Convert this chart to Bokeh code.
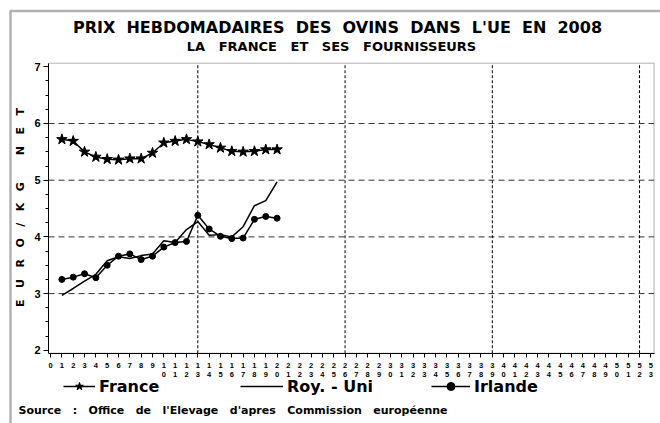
from math import pi
from bokeh.plotting import figure
from bokeh.models import (FixedTicker, Legend, LegendItem, Range1d, Label, BoxAnnotation)
from bokeh.embed import file_html
from bokeh.resources import INLINE

# ---- data ----
weeks = list(range(1, 21))
france = [5.72, 5.69, 5.50, 5.41, 5.37, 5.36, 5.38, 5.38, 5.48, 5.66,
          5.69, 5.72, 5.68, 5.63, 5.57, 5.51, 5.50, 5.51, 5.54, 5.54]
roy_uni = [2.97, 3.09, 3.22, 3.34, 3.58, 3.65, 3.62, 3.67, 3.70, 3.93,
           3.90, 4.13, 4.27, 4.03, 4.04, 4.00, 4.18, 4.55, 4.64, 4.97]
irlande = [3.25, 3.29, 3.35, 3.28, 3.50, 3.66, 3.70, 3.60, 3.66, 3.82,
           3.90, 3.92, 4.38, 4.14, 4.01, 3.97, 3.98, 4.31, 4.36, 4.33]

x_ticks = list(range(0, 54))
x_tick_labels = {t: (str(t) if t < 10 else f"{t // 10}\n{t % 10}") for t in x_ticks}
x_grid = [13, 26, 39, 52]
y_ticks = [2, 3, 4, 5, 6, 7]
y_minor = [2 + 0.25 * i for i in range(21)]
y_grid = [3, 4, 5, 6]

NB = "\u00a0"
title1 = f" {NB}".join(["PRIX", "HEBDOMADAIRES", "DES", "OVINS", "DANS", "L'UE", "EN", "2008"])
title2 = f" {NB} ".join(["LA", "FRANCE", "ET", "SES", "FOURNISSEURS"])
y_label = f" {NB} ".join(list("EURO/KG")) + f" {NB} {NB} {NB} " + f" {NB} ".join(list("NET"))
source = f" {NB} ".join(["Source", ":", "Office", "de", "l'Elevage", "d'apres",
                         "Commission", "européenne"])
names = ["France", "Roy. - Uni", "Irlande"]

FONT = "DejaVu Sans"
TFONT = "Liberation Sans"

# plot box extents (in data units) and overall view
X_LO, X_HI = -0.18, 53.28
Y_LO, Y_HI = 1.948, 7.063
W, H = 660, 423

p = figure(width=W, height=H,
           x_range=Range1d(-4.42, 53.85), y_range=Range1d(0.709, 8.169),
           output_backend="svg", toolbar_location=None,
           min_border_left=0, min_border_right=0,
           min_border_top=0, min_border_bottom=0)
p.background_fill_color = "white"
p.border_fill_color = "white"
p.outline_line_color = None
p.grid.visible = False

# axes drawn at the plot box edges
p.xaxis.fixed_location = Y_LO
p.xaxis.bounds = (X_LO, X_HI)
p.xaxis.ticker = FixedTicker(ticks=x_ticks)
p.xaxis.major_label_overrides = x_tick_labels
p.xaxis.major_label_text_font = TFONT
p.xaxis.major_label_text_font_style = "bold"
p.xaxis.major_label_text_font_size = "7.5px"
p.xaxis.major_label_text_color = "black"
p.xaxis.major_label_text_line_height = 1.0
p.xaxis.major_label_standoff = 4
p.xaxis.major_tick_out = 4
p.xaxis.major_tick_in = 0
p.xaxis.minor_tick_out = 0
p.xaxis.axis_line_color = "black"
p.xaxis.major_tick_line_color = "black"

p.yaxis.fixed_location = X_LO
p.yaxis.bounds = (Y_LO, Y_HI)
p.yaxis.ticker = FixedTicker(ticks=y_ticks, minor_ticks=y_minor)
p.yaxis.major_label_text_font = TFONT
p.yaxis.major_label_text_font_style = "bold"
p.yaxis.major_label_text_font_size = "11px"
p.yaxis.major_label_text_color = "black"
p.yaxis.major_label_standoff = 3
p.yaxis.major_tick_out = 5
p.yaxis.major_tick_in = 0
p.yaxis.minor_tick_out = 3
p.yaxis.minor_tick_in = 0
p.yaxis.axis_line_color = "black"

# plot box (top / right edges) and outer frame
p.add_layout(BoxAnnotation(left=X_LO, right=X_HI, bottom=Y_LO, top=Y_HI,
                           fill_alpha=0, line_color="black", line_width=1,
                           level="underlay"))
p.add_layout(BoxAnnotation(left=10, right=W + 50, top=H - 10.5, bottom=-50,
                           left_units="screen", right_units="screen",
                           top_units="screen", bottom_units="screen",
                           fill_alpha=0, line_color="black", line_width=2.5))

# grid lines
p.segment(x0=[X_LO] * len(y_grid), x1=[X_HI] * len(y_grid), y0=y_grid, y1=y_grid,
          line_color="#333333", line_dash="6 4", line_width=1)
p.segment(x0=x_grid, x1=x_grid, y0=[Y_LO] * len(x_grid), y1=[Y_HI] * len(x_grid),
          line_color="black", line_dash="3 2", line_width=1)

# series
fr_line = p.line(weeks, france, line_color="black", line_width=1.5)
fr_pts = p.scatter(weeks, france, marker="star", size=11,
                   fill_color="black", line_color="black")
uk_line = p.line(weeks, roy_uni, line_color="black", line_width=1.5)
ir_line = p.line(weeks, irlande, line_color="black", line_width=1.5)
ir_pts = p.scatter(weeks, irlande, marker="circle", size=6,
                   fill_color="black", line_color="black")

def label(text, x, y, size, align="center", angle=0.0):
    p.add_layout(Label(x=x, y=y, x_units="screen", y_units="screen", text=text,
                       angle=angle, text_align=align, text_baseline="middle",
                       text_font=FONT, text_font_style="bold",
                       text_font_size=size, text_color="black"))

label(title1, 337, H - 27, "16px")
label(title2, 331, H - 46, "13px")
label(y_label, 20, H - 207, "11px", angle=pi / 2)
label(source, 18, H - 410, "11px", align="left")

def make_legend(name, renderers, x, gw):
    leg = Legend(items=[LegendItem(label=name, renderers=renderers)],
                 location=(x, H - 396), orientation="horizontal",
                 glyph_width=gw, glyph_height=20, label_height=20,
                 label_standoff=4, padding=0, margin=0, spacing=0,
                 border_line_color=None, background_fill_alpha=0,
                 label_text_font=FONT, label_text_font_style="bold",
                 label_text_font_size="16px", label_text_color="black")
    p.add_layout(leg)

make_legend(names[0], [fr_line, fr_pts], 63, 32)
make_legend(names[1], [uk_line], 240, 43)
make_legend(names[2], [ir_line, ir_pts], 431, 39)

open("out.html", "w").write(file_html(p, INLINE))
